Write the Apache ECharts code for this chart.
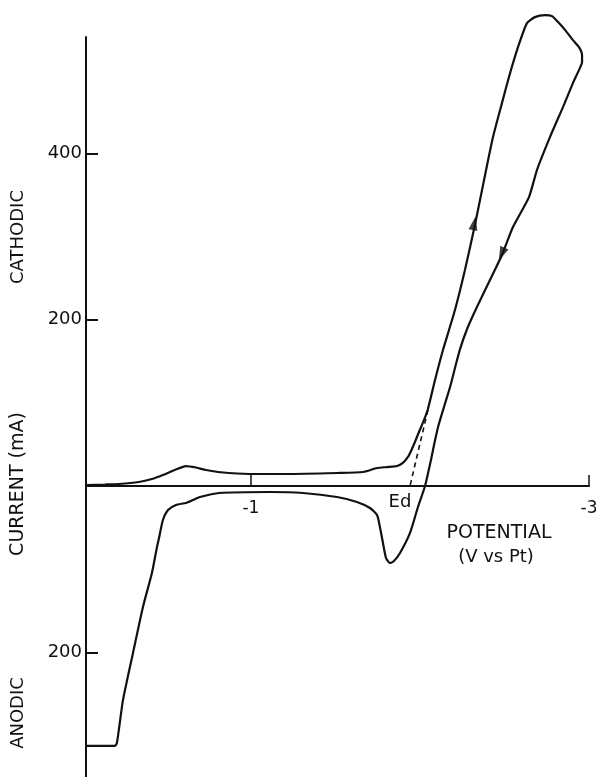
<!DOCTYPE html>
<html>
<head>
<meta charset="utf-8">
<script src="https://cdn.jsdelivr.net/npm/echarts@6/dist/echarts.min.js"></script>
<style>html,body{margin:0;padding:0;background:#fff;}#c{width:596px;height:777px;}</style>
</head>
<body>
<div id="c"></div>
<script>
// Cyclic scan: forward (cathodic, upper) then reverse (lower) branch
var potential = [
  -0.024,-0.136,-0.219,-0.337,-0.414,-0.479,-0.550,-0.615,-0.675,-0.734,-0.805,-0.870,-1.012,-1.207,-1.509,-1.663,-1.746,-1.805,-1.864,-1.899,-1.929,-1.947,-1.970,-1.994,-2.024,-2.047,-2.089,-2.136,-2.207,-2.266,-2.325,-2.379,-2.432,-2.485,-2.533,-2.580,-2.633,-2.680,-2.740,-2.781,-2.817,-2.864,-2.905,-2.941,-2.959,-2.959,-2.935,-2.905,-2.846,-2.769,-2.692,-2.645,-2.550,-2.485,-2.414,-2.337,-2.281,-2.237,-2.207,-2.178,-2.142,-2.107,-2.083,-2.065,-2.030,-1.988,-1.941,-1.882,-1.846,-1.822,-1.799,-1.781,-1.763,-1.746,-1.704,-1.627,-1.509,-1.308,-1.112,-0.811,-0.698,-0.657,-0.615,-0.556,-0.509,-0.479,-0.456,-0.444,-0.414,-0.361,-0.302,-0.243,-0.207,-0.195,-0.024
];
var current = [
  1.2,1.8,2.4,4.8,8.4,13.2,19.2,24.0,22.2,19.2,16.8,15.6,14.4,14.4,15.6,16.8,21.6,22.8,24.0,27.7,34.9,42.1,52.9,64.9,79.4,92.6,127.5,163.5,211.6,259.7,313.8,367.9,419.6,460.5,496.6,527.9,556.7,563.9,566.3,565.1,557.9,547.1,536.3,527.9,518.2,509.8,497.8,484.6,455.7,419.6,380.0,347.5,311.4,277.8,247.7,215.2,190.0,164.7,141.9,119.0,95.0,71.0,49.3,31.3,0.0,-25.3,-56.5,-80.6,-90.2,-92.6,-86.6,-68.5,-49.3,-34.9,-26.5,-19.2,-13.2,-8.4,-7.2,-8.4,-13.2,-16.8,-20.4,-22.8,-28.9,-40.9,-62.5,-73.3,-104.6,-145.5,-200.8,-257.3,-309.0,-312.6,-312.6
];
// Extrapolation to decomposition potential Ed
var dashPotential = [-2.047, -1.941];
var dashCurrent = [91.4, 0];
// Direction arrows on the branches
var arrowPotential = [-2.321, -2.483];
var arrowCurrent = [315.9, 279.0];
var arrowRotate = [-10.7, 156.5];
// Axis tick labels
var xTicks = [-1, -3];
var yTicks = [-200, 200, 400];

var FONT = 'DejaVu Sans';
var loop = potential.map(function (v, i) { return [v, current[i]]; });
var dash = dashPotential.map(function (v, i) { return [v, dashCurrent[i]]; });
var arrows = arrowPotential.map(function (v, i) {
  return { value: [v, arrowCurrent[i]], symbolRotate: arrowRotate[i] };
});

var chart = echarts.init(document.getElementById('c'));
chart.setOption({
  animation: false,
  backgroundColor: '#fff',
  grid: { left: 86, right: 7, top: 37, bottom: 0, containLabel: false, outerBoundsMode: 'none' },
  xAxis: {
    type: 'value', min: -3, max: -0.024, inverse: true,
    splitLine: { show: false },
    axisLine: { onZero: false, lineStyle: { color: '#111', width: 2 } },
    axisTick: { show: true, inside: true, length: 11, customValues: xTicks, lineStyle: { color: '#111', width: 1.5 } },
    axisLabel: { customValues: xTicks, margin: 14, color: '#111', fontFamily: FONT, fontSize: 17,
      formatter: function (v) { return String(v); } }
  },
  yAxis: {
    type: 'value', min: -350, max: 540,
    splitLine: { show: false },
    axisLine: { show: true, lineStyle: { color: '#111', width: 2 } },
    axisTick: { show: true, inside: true, length: 12, customValues: yTicks, lineStyle: { color: '#111', width: 2 } },
    axisLabel: { customValues: yTicks, margin: 4, color: '#111', fontFamily: FONT, fontSize: 18,
      formatter: function (v) { return String(Math.abs(v)); } }
  },
  series: [
    { type: 'line', data: loop, showSymbol: false, smooth: 0.2, clip: false,
      lineStyle: { color: '#111', width: 2.2 } },
    { type: 'line', data: dash, showSymbol: false, clip: false,
      lineStyle: { color: '#111', width: 1.6, type: [5, 4] } },
    { type: 'scatter', data: arrows, symbol: 'triangle', symbolSize: [9, 14],
      itemStyle: { color: '#111' } }
  ],
  graphic: [
    { type: 'text', x: 18, y: 237, rotation: Math.PI / 2,
      style: { text: 'CATHODIC', fontFamily: FONT, fontSize: 18, fill: '#111', align: 'center', verticalAlign: 'middle' } },
    { type: 'text', x: 18, y: 484, rotation: Math.PI / 2,
      style: { text: 'CURRENT (mA)', fontFamily: FONT, fontSize: 19, fill: '#111', align: 'center', verticalAlign: 'middle' } },
    { type: 'text', x: 18, y: 713, rotation: Math.PI / 2,
      style: { text: 'ANODIC', fontFamily: FONT, fontSize: 18, fill: '#111', align: 'center', verticalAlign: 'middle' } },
    { type: 'text', x: 499, y: 533,
      style: { text: 'POTENTIAL', fontFamily: FONT, fontSize: 19, fill: '#111', align: 'center', verticalAlign: 'middle' } },
    { type: 'text', x: 496, y: 557,
      style: { text: '(V vs Pt)', fontFamily: FONT, fontSize: 18, fill: '#111', align: 'center', verticalAlign: 'middle' } },
    { type: 'text', x: 400, y: 502,
      style: { text: 'Ed', fontFamily: FONT, fontSize: 18, fill: '#111', align: 'center', verticalAlign: 'middle' } }
  ]
});
// Move the potential axis (line, ticks, labels) up to zero current
var zeroY = chart.convertToPixel({ yAxisIndex: 0 }, 0);
var bottomY = chart.convertToPixel({ yAxisIndex: 0 }, -350);
chart.setOption({ xAxis: { offset: zeroY - bottomY } });
</script>
</body>
</html>
